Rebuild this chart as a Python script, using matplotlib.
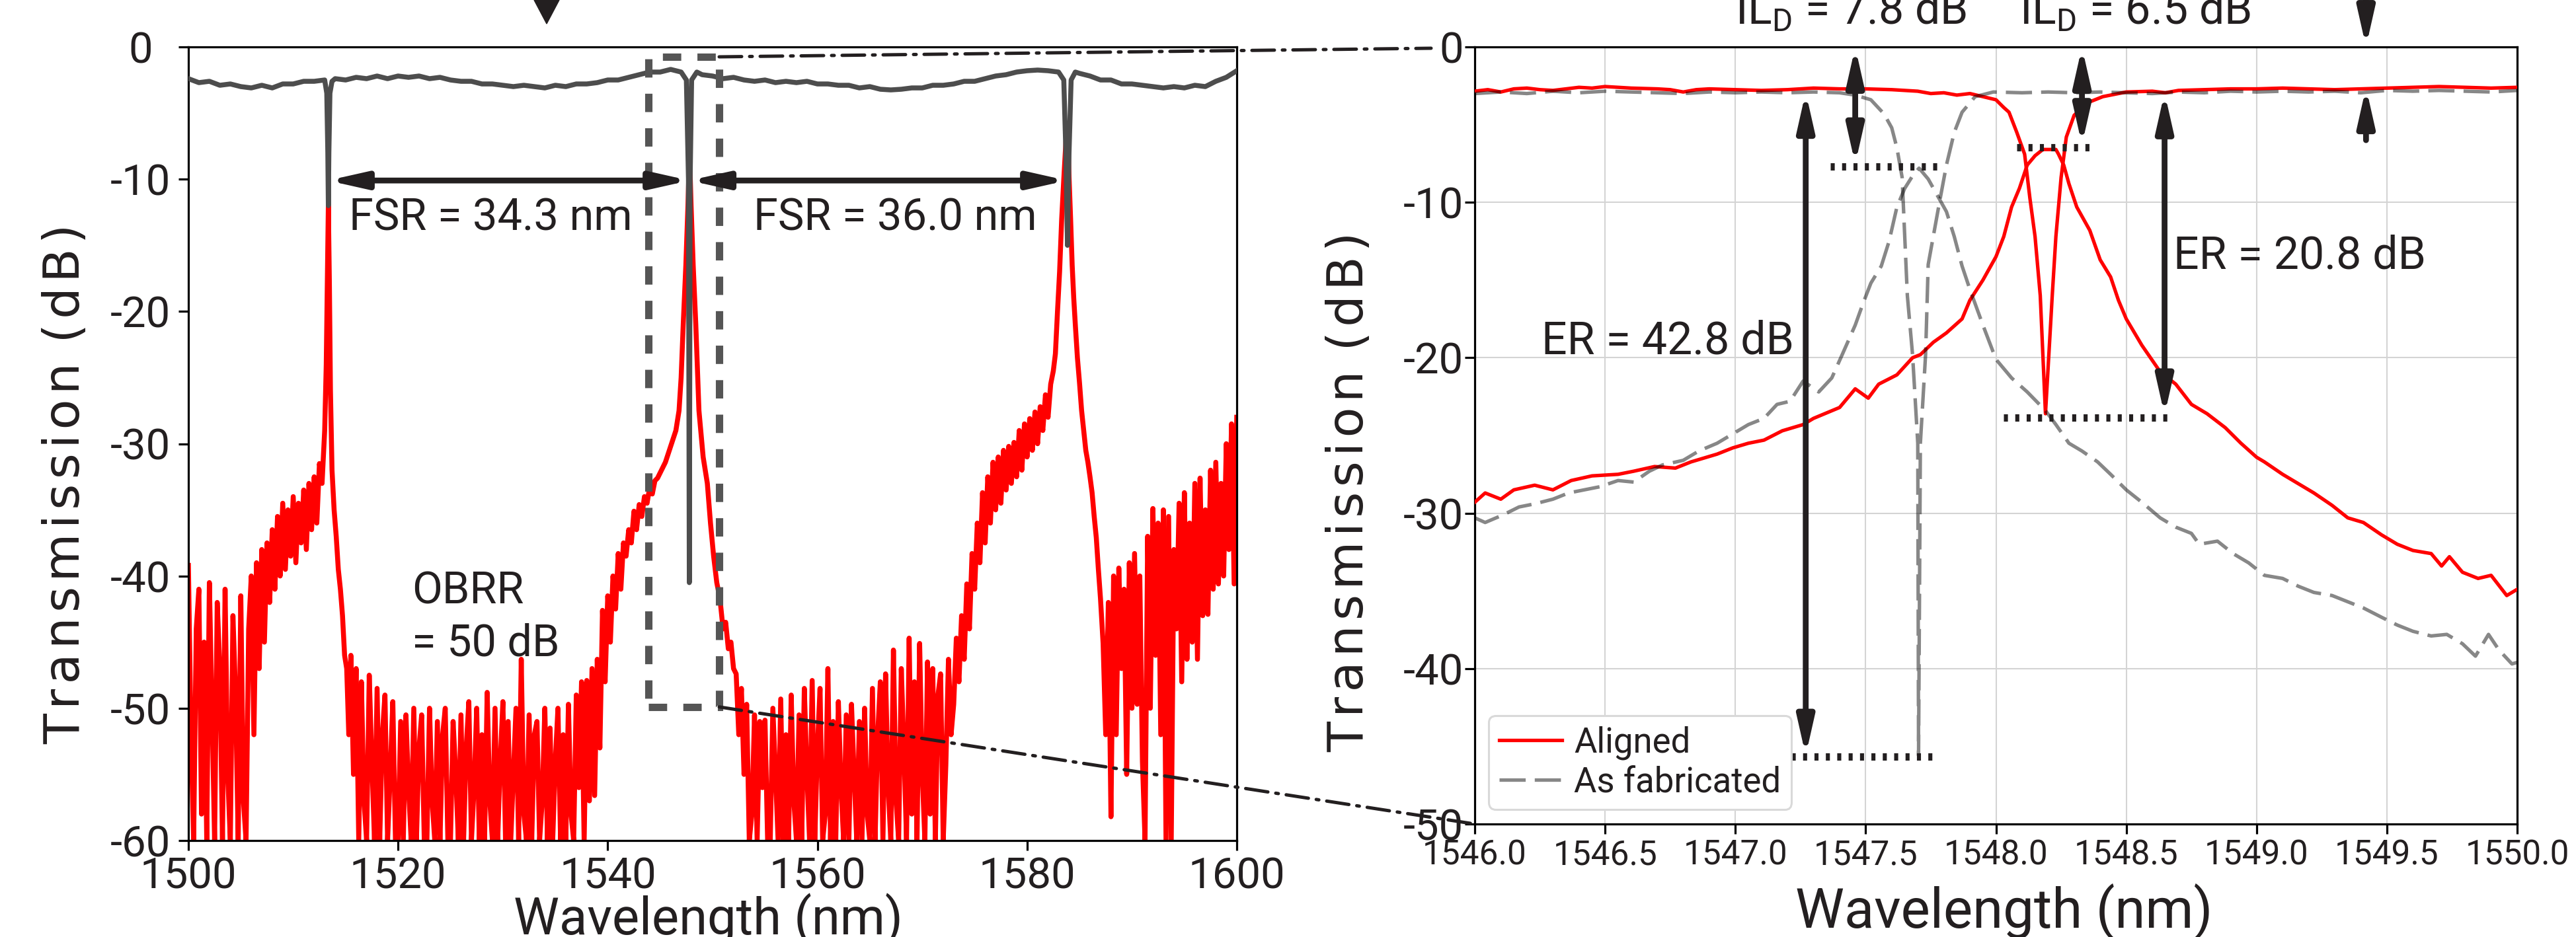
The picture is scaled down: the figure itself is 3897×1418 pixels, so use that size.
import numpy as np
import matplotlib.pyplot as plt
from matplotlib.patches import Rectangle, ConnectionPatch, Polygon

plt.rcParams['font.family'] = ['Roboto', 'DejaVu Sans']
plt.rcParams['axes.unicode_minus'] = False
plt.rcParams['mathtext.fontset'] = 'custom'
plt.rcParams['mathtext.rm'] = 'Roboto'

INK = '#231f20'

# ---------------- left panel: broadband spectrum ----------------
gray_wl = [1500, 1501, 1502, 1503, 1504, 1505, 1506, 1507, 1508, 1509, 1510, 1511, 1512, 1513,
           1513.2, 1513.3, 1513.35, 1513.4, 1513.5, 1513.7, 1514, 1515, 1516, 1517, 1518, 1519,
           1520, 1521, 1522, 1523, 1524, 1525, 1526, 1527, 1528, 1529, 1530, 1531, 1532, 1533,
           1534, 1535, 1536, 1537, 1538, 1539, 1540, 1541, 1542, 1543, 1544, 1545, 1546, 1547,
           1547.5, 1547.7, 1547.78, 1547.86, 1548.0, 1548.5, 1549, 1550, 1551, 1552, 1553, 1554,
           1555, 1556, 1557, 1558, 1559, 1560, 1561, 1562, 1563, 1564, 1565, 1566, 1567, 1568,
           1569, 1570, 1571, 1572, 1573, 1574, 1575, 1576, 1577, 1578, 1579, 1580, 1581, 1582,
           1583, 1583.5, 1583.7, 1583.85, 1584.0, 1584.2, 1584.6, 1585, 1586, 1587, 1588, 1589,
           1590, 1591, 1592, 1593, 1594, 1595, 1596, 1597, 1598, 1599, 1600]
gray_db = [-2.4, -2.7, -2.6, -2.9, -2.8, -3.0, -3.1, -2.9, -3.1, -2.8, -2.8, -2.6, -2.6, -2.5,
           -3.5, -8, -12, -8, -3.5, -2.6, -2.4, -2.5, -2.3, -2.4, -2.2, -2.4,
           -2.2, -2.3, -2.2, -2.4, -2.3, -2.5, -2.6, -2.6, -2.8, -2.8, -2.9, -3.0, -2.9, -3.0,
           -3.1, -2.9, -3.0, -2.8, -2.8, -2.7, -2.5, -2.5, -2.3, -2.1, -1.9, -1.9, -1.7, -1.9,
           -2.5, -10, -40.5, -10, -2.5, -1.9, -2.1, -2.2, -2.4, -2.3, -2.5, -2.6,
           -2.5, -2.7, -2.6, -2.7, -2.6, -2.8, -2.8, -2.9, -2.9, -3.1, -3.0, -3.2, -3.25, -3.2,
           -3.1, -3.1, -2.9, -2.9, -2.8, -2.6, -2.6, -2.4, -2.2, -2.1, -1.9, -1.8, -1.75, -1.8,
           -1.9, -2.5, -8, -15, -8, -2.5, -1.9, -2.0, -2.2, -2.5, -2.5, -2.8,
           -2.8, -2.9, -3.0, -3.1, -3.0, -3.1, -2.9, -3.0, -2.6, -2.3, -1.8]

# drop port, 1500.00 - 1512.75 nm every 0.25 nm
red_a_db = [-39.2, -52, -60, -44, -41, -58, -45, -60, -40.5, -50, -60, -42, -47, -60, -41, -55,
            -60, -43, -49, -60, -41.5, -57, -60, -44, -40, -52, -39, -47, -38, -45, -37.5, -42,
            -36.5, -41, -35.5, -40, -34.5, -39.5, -35, -38.5, -34, -39, -34.5, -37.5, -33.5, -38,
            -33, -36.5, -32.5, -36, -31.5, -33]
red_peak1_wl = [1513.0, 1513.15, 1513.25, 1513.35, 1513.45, 1513.55, 1513.7, 1513.9, 1514.1,
                1514.3, 1514.5, 1514.7, 1514.9, 1515.1, 1515.3, 1515.5, 1515.75]
red_peak1_db = [-29, -24, -18, -12, -18, -26, -32, -35, -37, -39.5, -41, -43, -46, -47, -52, -46, -55]
# 1516.00 - 1545.50 nm every 0.25 nm
red_b_db = [-47, -60, -48, -57, -60, -47.5, -54, -60, -48.5, -60, -52, -49, -60, -55, -49.5, -60,
            -60, -51, -60, -50.5, -56, -60, -50, -60, -53, -50.5, -60, -60, -50, -57, -60, -51,
            -60, -52, -50, -60, -60, -51, -55, -60, -50.5, -60, -53, -49.5, -60, -56, -50, -60,
            -52, -60, -48.8, -57, -60, -50, -60, -54, -49.5, -60, -51, -60, -55, -50, -60, -46.3,
            -58, -60, -50.5, -60, -52, -51, -60, -57, -50, -60, -51.5, -60, -54, -50, -60, -52,
            -60, -49.7, -58, -60, -49, -56, -48, -60, -47.9, -57, -47, -56.6,
            -46.3, -53, -42.6, -48, -41.5, -45, -40, -42.5, -38.3, -41, -37.5, -38.5, -36.5, -37.5,
            -35.1, -36.5, -34.6, -35.5, -34, -34.5, -33.3, -33.8, -32.8, -32.6, -32.2, -31.8, -31.4]
red_peak2_wl = [1546.0, 1546.5, 1546.8, 1547.0, 1547.2, 1547.45, 1547.65, 1547.8, 1547.95, 1548.15,
                1548.4, 1548.7, 1549.1, 1549.5, 1549.8, 1550.1, 1550.4, 1550.7, 1551.0, 1551.25,
                1551.5, 1551.75, 1552.0, 1552.25, 1552.5, 1552.75, 1553.0]
red_peak2_db = [-30.2, -29, -27.5, -25, -21, -16.5, -12, -8, -12, -16.5, -21, -27.5, -31, -33,
                -36, -38.5, -40.5, -41.7, -44, -43.5, -45.5, -45, -47, -47.4, -52, -48.5, -55]
# 1553.25 - 1582.25 nm every 0.25 nm
red_c_db = [-49.7, -60, -58, -50.5, -60, -51, -56, -50.9, -60, -60, -50, -55, -60, -49.3, -60, -52,
            -60, -49, -57, -60, -50.5, -60, -48.5, -55, -60, -47.9, -60, -53, -48.5, -60, -58, -47,
            -60, -51, -60, -49.5, -56, -60, -50.5, -60, -49.7, -55, -60, -51, -60, -50, -58, -60,
            -48.5, -60, -52, -48, -60, -47.4, -56, -60, -45.6, -57, -60, -47, -53, -60, -44.7, -58,
            -48, -60, -45.1, -55, -60, -46.5, -58, -47, -60, -49, -47.4, -60, -54.3, -46.3, -52,
            -49.7, -44.7, -48, -43, -46.3, -40.6, -44, -38.3, -41, -36, -39, -33.7, -37.5, -32.5,
            -36, -31.4, -35, -31, -34.5, -30.5, -33.5, -30.2, -33, -29.9, -32.5, -29, -32, -28.5,
            -31, -28.1, -30.5, -27.6, -30, -27.2, -29, -26.3, -28, -25.5]
red_peak3_wl = [1582.5, 1582.7, 1582.9, 1583.1, 1583.3, 1583.5, 1583.7, 1583.85, 1584.0, 1584.15,
                1584.3, 1584.45, 1584.6, 1584.8, 1585.0, 1585.2, 1585.4, 1585.6, 1585.8, 1586.0,
                1586.2, 1586.4, 1586.6, 1586.8, 1587.0, 1587.25]
red_peak3_db = [-24.5, -23.2, -20, -17, -13, -10, -7.2, -5.8, -9.8, -13, -16.5, -19, -21, -23.5,
                -25.4, -27.5, -29, -30.5, -31.4, -32.5, -33.7, -35.5, -37.1, -39.5, -41.7, -45.1]
# 1587.50 - 1600.00 nm every 0.25 nm
red_d_db = [-52, -42, -58.2, -40, -52, -39.4, -47, -41, -55, -39, -50, -38.3, -49.7, -40, -54, -60,
            -37, -50, -34.9, -46, -36, -52, -35, -60, -35.5, -60, -38, -44, -34.5, -48, -33.7,
            -46.3, -36, -45, -33, -46.3, -32.6, -43, -35, -42.9, -32, -41, -31.4, -40.6, -33, -40,
            -30, -38, -28.5, -40.6, -28]

red_wl = np.concatenate([np.arange(1500, 1512.8, 0.25), red_peak1_wl,
                         np.arange(1516, 1545.6, 0.25), red_peak2_wl,
                         np.arange(1553.25, 1582.3, 0.25), red_peak3_wl,
                         np.arange(1587.5, 1600.1, 0.25)])
red_db = np.concatenate([red_a_db, red_peak1_db, red_b_db, red_peak2_db,
                         red_c_db, red_peak3_db, red_d_db])

# ---------------- right panel: zoom around the resonance ----------------
al_thr_wl = [1546.0, 1546.05, 1546.1, 1546.15, 1546.2, 1546.25, 1546.3, 1546.35, 1546.4, 1546.45,
             1546.5, 1546.6, 1546.7, 1546.75, 1546.8, 1546.85, 1546.9, 1547.0, 1547.1, 1547.2,
             1547.3, 1547.4, 1547.5, 1547.6, 1547.7, 1547.75, 1547.8, 1547.85, 1547.9, 1547.95,
             1548.0, 1548.03, 1548.05, 1548.08, 1548.11, 1548.13, 1548.15, 1548.17, 1548.19,
             1548.216, 1548.23, 1548.25, 1548.27, 1548.3, 1548.35, 1548.41, 1548.5, 1548.6,
             1548.65, 1548.7, 1548.8, 1548.9, 1549.0, 1549.1, 1549.2, 1549.3, 1549.4, 1549.5,
             1549.6, 1549.7, 1549.8, 1549.9, 1550.0]
al_thr_db = [-2.85, -2.75, -2.9, -2.7, -2.65, -2.75, -2.8, -2.7, -2.6, -2.65,
             -2.55, -2.65, -2.7, -2.75, -2.9, -2.75, -2.7, -2.75, -2.8, -2.75,
             -2.65, -2.7, -2.7, -2.75, -2.85, -3.0, -2.95, -3.1, -3.0, -3.2,
             -3.4, -3.9, -4.2, -5.5, -6.9, -9.7, -12.2, -16, -23.6,
             -16, -12.2, -8.4, -5.8, -4.4, -3.6, -3.2, -2.9, -2.85,
             -2.95, -2.8, -2.75, -2.7, -2.7, -2.65, -2.7, -2.75, -2.7, -2.65,
             -2.6, -2.55, -2.6, -2.65, -2.6]
al_drop_wl = [1546.0, 1546.04, 1546.1, 1546.15, 1546.23, 1546.3, 1546.37, 1546.45, 1546.55, 1546.61,
              1546.69, 1546.77, 1546.83, 1546.93, 1546.99, 1547.05, 1547.11, 1547.18, 1547.26,
              1547.3, 1547.4, 1547.46, 1547.51, 1547.55, 1547.62, 1547.68, 1547.71, 1547.76,
              1547.81, 1547.87, 1547.9, 1547.95, 1548.0, 1548.03, 1548.06, 1548.09, 1548.12,
              1548.15, 1548.18, 1548.23, 1548.24, 1548.26, 1548.28, 1548.31, 1548.36, 1548.4,
              1548.44, 1548.47, 1548.5, 1548.56, 1548.63, 1548.69, 1548.75, 1548.81, 1548.88,
              1548.94, 1549.0, 1549.03, 1549.1, 1549.16, 1549.22, 1549.29, 1549.35, 1549.41,
              1549.48, 1549.54, 1549.6, 1549.67, 1549.71, 1549.74, 1549.79, 1549.85, 1549.9,
              1549.96, 1550.0]
al_drop_db = [-29.3, -28.7, -29.1, -28.5, -28.2, -28.5, -27.9, -27.6, -27.5, -27.3,
              -27.0, -27.1, -26.7, -26.2, -25.8, -25.5, -25.3, -24.7, -24.3,
              -23.9, -23.2, -22.0, -22.6, -21.7, -21.1, -20.0, -19.8, -19.0,
              -18.4, -17.5, -16.3, -15.0, -13.5, -12.2, -10.3, -9.1, -7.6,
              -7.0, -6.6, -6.6, -6.9, -7.6, -8.8, -10.3, -11.8, -13.7,
              -14.8, -16.3, -17.5, -19.2, -20.9, -21.7, -23.0, -23.6, -24.5,
              -25.5, -26.4, -26.7, -27.5, -28.1, -28.7, -29.5, -30.3, -30.6,
              -31.4, -32.0, -32.4, -32.6, -33.4, -32.8, -33.8, -34.2, -34.0,
              -35.3, -34.9]
fab_thr_wl = [1546.0, 1546.1, 1546.2, 1546.3, 1546.4, 1546.5, 1546.6, 1546.7, 1546.8, 1546.9,
              1547.0, 1547.1, 1547.2, 1547.3, 1547.4, 1547.46, 1547.52, 1547.57, 1547.6, 1547.62,
              1547.64, 1547.65, 1547.66, 1547.68, 1547.70, 1547.703, 1547.71, 1547.73, 1547.74,
              1547.78, 1547.81, 1547.84, 1547.87, 1547.92, 1547.99, 1548.1, 1548.2, 1548.3, 1548.4,
              1548.5, 1548.6, 1548.7, 1548.8, 1548.9, 1549.0, 1549.1, 1549.2, 1549.3, 1549.4,
              1549.5, 1549.6, 1549.7, 1549.8, 1549.9, 1550.0]
fab_thr_db = [-3.0, -2.9, -3.0, -2.85, -2.95, -2.85, -2.9, -2.95, -3.0, -2.9,
              -2.95, -2.9, -2.95, -2.9, -2.95, -3.1, -3.4, -4.3, -5.2, -6.5,
              -8.4, -12.2, -16, -19.8, -25.5, -45.6, -25.5, -19.8, -14,
              -10.3, -7.6, -5.5, -4.2, -3.2, -2.9, -2.95, -2.9, -2.95, -2.9,
              -2.95, -3.0, -2.9, -2.95, -2.85, -2.9, -2.85, -2.9, -2.85, -2.95,
              -2.8, -2.85, -2.8, -2.85, -2.9, -2.8]
fab_drop_wl = [1546.0, 1546.04, 1546.11, 1546.17, 1546.23, 1546.3, 1546.36, 1546.42, 1546.48,
               1546.55, 1546.61, 1546.67, 1546.72, 1546.8, 1546.86, 1546.93, 1546.99, 1547.05,
               1547.11, 1547.16, 1547.21, 1547.26, 1547.32, 1547.37, 1547.41, 1547.46, 1547.49,
               1547.52, 1547.56, 1547.59, 1547.62, 1547.65, 1547.68, 1547.705, 1547.74, 1547.78,
               1547.81, 1547.84, 1547.87, 1547.9, 1547.95, 1548.0, 1548.06, 1548.12, 1548.19,
               1548.23, 1548.28, 1548.33, 1548.39, 1548.44, 1548.5, 1548.56, 1548.63, 1548.69,
               1548.75, 1548.78, 1548.85, 1548.91, 1548.97, 1549.03, 1549.1, 1549.16, 1549.22,
               1549.29, 1549.35, 1549.41, 1549.48, 1549.54, 1549.6, 1549.67, 1549.73, 1549.79,
               1549.84, 1549.89, 1549.93, 1549.98, 1550.0]
fab_drop_db = [-30.3, -30.6, -30.1, -29.6, -29.4, -29.1, -28.7, -28.5, -28.3,
               -27.9, -28.0, -27.3, -26.9, -26.6, -26.0, -25.5, -24.9, -24.3,
               -23.9, -23.0, -22.8, -21.5, -22.2, -21.3, -19.8, -17.9, -16.5,
               -15.2, -14.1, -12.5, -10.3, -9.1, -8.3, -7.8, -8.5, -9.7,
               -10.6, -12.2, -14.1, -15.6, -17.9, -20.1, -21.3, -22.2, -23.4,
               -24.3, -25.5, -26.0, -26.7, -27.5, -28.5, -29.3, -30.3, -30.9,
               -31.3, -32.0, -31.8, -32.6, -33.2, -34.0, -34.2, -34.7, -35.1,
               -35.3, -35.7, -36.1, -36.7, -37.2, -37.6, -37.9, -37.8, -38.4,
               -39.2, -37.8, -38.8, -39.7, -39.6]

left_xticks = [1500, 1520, 1540, 1560, 1580, 1600]
left_yticks = [0, -10, -20, -30, -40, -50, -60]
right_xticks = [1546.0, 1546.5, 1547.0, 1547.5, 1548.0, 1548.5, 1549.0, 1549.5, 1550.0]
right_yticks = [0, -10, -20, -30, -40, -50]

W, H = 3897, 1418
fig = plt.figure(figsize=(W / 100, H / 100), dpi=100)


def axes_px(l, t, r, b):
    return fig.add_axes([l / W, 1 - b / H, (r - l) / W, (b - t) / H])


ax1 = axes_px(285, 71, 1871, 1272)
ax2 = axes_px(2231, 71, 3808, 1247)

for ax in (ax1, ax2):
    for s in ax.spines.values():
        s.set_linewidth(2.3)
    ax.tick_params(direction='out', length=11, width=2.3, colors='black')

ylab = '\u200a'.join('Transmission') + '\u2009\u2009(\u200ad\u200aB\u200a)'

# left panel
ax1.plot(red_wl, red_db, color='#ff0000', lw=5.4, zorder=2, solid_joinstyle='round')
ax1.plot(gray_wl, gray_db, color='#4d4d4d', lw=5.4, zorder=3)
ax1.set_xlim(1500, 1600)
ax1.set_ylim(-60, 0)
ax1.set_xticks(left_xticks)
ax1.set_yticks(left_yticks)
ax1.tick_params(axis='both', labelsize=47, labelcolor=INK)
ax1.tick_params(axis='y', pad=41)
ax1.tick_params(axis='x', pad=6)
for lbl in ax1.get_yticklabels():
    lbl.set_ha('center')
ax1.set_xlabel('Wavelength (nm)', fontsize=56, color=INK, va='baseline')
ax1.xaxis.set_label_coords(0.496, -0.1185)
ax1.set_ylabel(ylab, fontsize=54, color=INK, family='DejaVu Sans', va='center')
ax1.yaxis.set_label_coords(-0.117, 0.449)

ax1.add_patch(Rectangle((1543.9, -49.9), 1550.63 - 1543.9, 49.15, fill=False, ec='#555555',
                        lw=8, ls=(0, (2.5, 2.2)), zorder=4, clip_on=False))

arrow_kw = dict(arrowstyle='<|-|>,head_length=0.8,head_width=0.18', lw=6.3, color=INK,
                mutation_scale=42, shrinkA=0, shrinkB=0, joinstyle='round')
ax1.annotate('', xy=(1513.3, -10.1), xytext=(1547.8, -10.1), arrowprops=arrow_kw, zorder=5)
ax1.annotate('', xy=(1547.8, -10.1), xytext=(1583.8, -10.1), arrowprops=arrow_kw, zorder=5)
ax1.text(1515.3, -13.84, 'FSR = 34.3 nm', fontsize=48, color=INK, va='baseline')
ax1.text(1553.9, -13.84, 'FSR = 36.0 nm', fontsize=48, color=INK, va='baseline')
ax1.text(1521.3, -42.1, 'OBRR', fontsize=48, color=INK, va='baseline')
ax1.text(1521.3, -46.05, '= 50 dB', fontsize=48, color=INK, va='baseline')

# right panel
ax2.grid(True, color='#d4d4d4', lw=1.5)
ax2.set_axisbelow(True)
ax2.plot(al_drop_wl, al_drop_db, color='#ff0000', lw=3.8, zorder=3)
l_al, = ax2.plot(al_thr_wl, al_thr_db, color='#ff0000', lw=3.8, zorder=3)
dash = (0, (7.5, 2.6))
ax2.plot(fab_drop_wl, fab_drop_db, color='black', alpha=0.47, lw=3.8, ls=dash, zorder=4)
l_fab, = ax2.plot(fab_thr_wl, fab_thr_db, color='black', alpha=0.47, lw=3.8, ls=dash, zorder=4)
ax2.set_xlim(1546, 1550)
ax2.set_ylim(-50, 0)
ax2.set_xticks(right_xticks)
ax2.set_xticklabels(['%.1f' % v for v in right_xticks])
ax2.set_yticks(right_yticks)
ax2.tick_params(axis='y', labelsize=47, labelcolor=INK, pad=1)
ax2.tick_params(axis='x', labelsize=37, labelcolor=INK, pad=5)
ax2.set_xlabel('Wavelength (nm)', fontsize=60, color=INK, va='baseline')
ax2.xaxis.set_label_coords(0.508, -0.1335)
ax2.set_ylabel(ylab, fontsize=54, color=INK, family='DejaVu Sans', va='center')
ax2.yaxis.set_label_coords(-0.12, 0.427)

dot = (0, (0.55, 1.0))
for x0, x1, y in [(1547.215, 1547.767, -45.66), (1547.365, 1547.79, -7.7),
                  (1548.08, 1548.385, -6.46), (1548.03, 1548.66, -23.86)]:
    ax2.plot([x0, x1], [y, y], color=INK, lw=8, ls=dot, dash_capstyle='butt', zorder=5)

for x, y0, y1 in [(1547.27, -2.9, -45.6), (1547.46, 0, -7.55), (1548.33, 0, -6.3),
                  (1548.647, -2.93, -23.7)]:
    ax2.annotate('', xy=(x, y0), xytext=(x, y1), arrowprops=arrow_kw, zorder=6,
                 annotation_clip=False)
single_kw = dict(arrow_kw, arrowstyle='-|>,head_length=0.8,head_width=0.18')
ax2.annotate('', xy=(1549.42, 0), xytext=(1549.42, 4), arrowprops=single_kw,
             annotation_clip=False)
ax2.annotate('', xy=(1549.42, -2.6), xytext=(1549.42, -6.0), arrowprops=single_kw)

ax2.text(1547.225, -19.76, 'ER = 42.8 dB', fontsize=49, color=INK, ha='right', va='baseline')
ax2.text(1548.68, -14.26, 'ER = 20.8 dB', fontsize=49, color=INK, ha='left', va='baseline')
ax2.text(1547.0, 1.45, r'IL$_\mathrm{D}$ = 7.8 dB', fontsize=49, color=INK, va='baseline',
         clip_on=False)
ax2.text(1548.09, 1.45, r'IL$_\mathrm{D}$ = 6.5 dB', fontsize=49, color=INK, va='baseline',
         clip_on=False)

leg = ax2.legend([l_al, l_fab], ['Aligned', 'As fabricated'], loc='lower left',
                 bbox_to_anchor=(0.0133, 0.0187), borderaxespad=0, fontsize=38,
                 handlelength=1.8, handletextpad=0.35, labelspacing=0.15, borderpad=0.3,
                 fancybox=True, framealpha=1, edgecolor='#d9d9d9')
leg.get_frame().set_linewidth(2.2)
for t in leg.get_texts():
    t.set_color(INK)

# zoom connectors
dashdot = (0, (6.8, 2.4, 0.8, 2.4))
fig.add_artist(ConnectionPatch(xyA=(1550.63, -0.75), coordsA=ax1.transData,
                               xyB=(2165, H - 73), coordsB='figure pixels',
                               color=INK, lw=3.6, ls=dashdot))
fig.add_artist(ConnectionPatch(xyA=(1550.63, -49.9), coordsA=ax1.transData,
                               xyB=(1546, -50), coordsB=ax2.transData,
                               color=INK, lw=3.6, ls=dashdot))

# marker cut at the top edge
fig.add_artist(Polygon([(808 / W, 1), (846 / W, 1), (827 / W, 1 - 36 / H)],
                       closed=True, transform=fig.transFigure, color=INK))

fig.savefig('out.png', dpi=100)
